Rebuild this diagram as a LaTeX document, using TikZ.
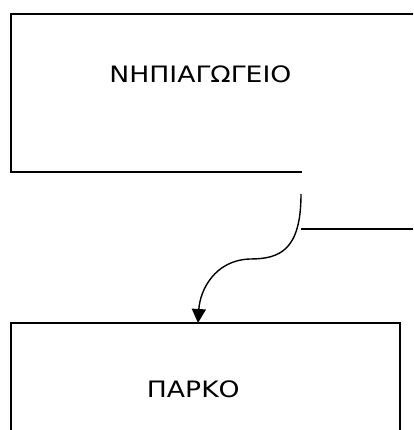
\documentclass[tikz,border=0pt]{standalone}
\usepackage{fontspec}
\setmainfont[FakeStretch=1.18]{DejaVu Sans}
\usetikzlibrary{arrows.meta}

\begin{document}
\begin{tikzpicture}[x=1pt,y=-1pt,
    frame/.style={line width=1.6pt},
    title/.style={font=\fontsize{22.6}{27}\selectfont, anchor=base},
    link/.style={line width=1.4pt, -{Triangle[length=14pt,width=14pt]}}]
  \useasboundingbox (0,0) rectangle (413,430);
  % Define nodes
  \node[title] (N) at (200.4,83) {ΝΗΠΙΑΓΩΓΕΙΟ};
  \node[title] (P) at (193.3,397) {ΠΑΡΚΟ};
  \coordinate (Nout) at (301,194);
  \coordinate (Pin) at (198,323);

  % Frames
  \draw[frame] (413,14) -- (11,14) -- (11,172) -- (302,172);
  \draw[frame] (11,430) -- (11,323) -- (400,323) -- (400,430);
  \draw[frame] (301,229) -- (413,229);

  % Connect the nodes
  \draw[link] (Nout) .. controls (301,250) and (280,259) .. (250,259)
    .. controls (215,260) and (200,290) .. (Pin);
\end{tikzpicture}
\end{document}
